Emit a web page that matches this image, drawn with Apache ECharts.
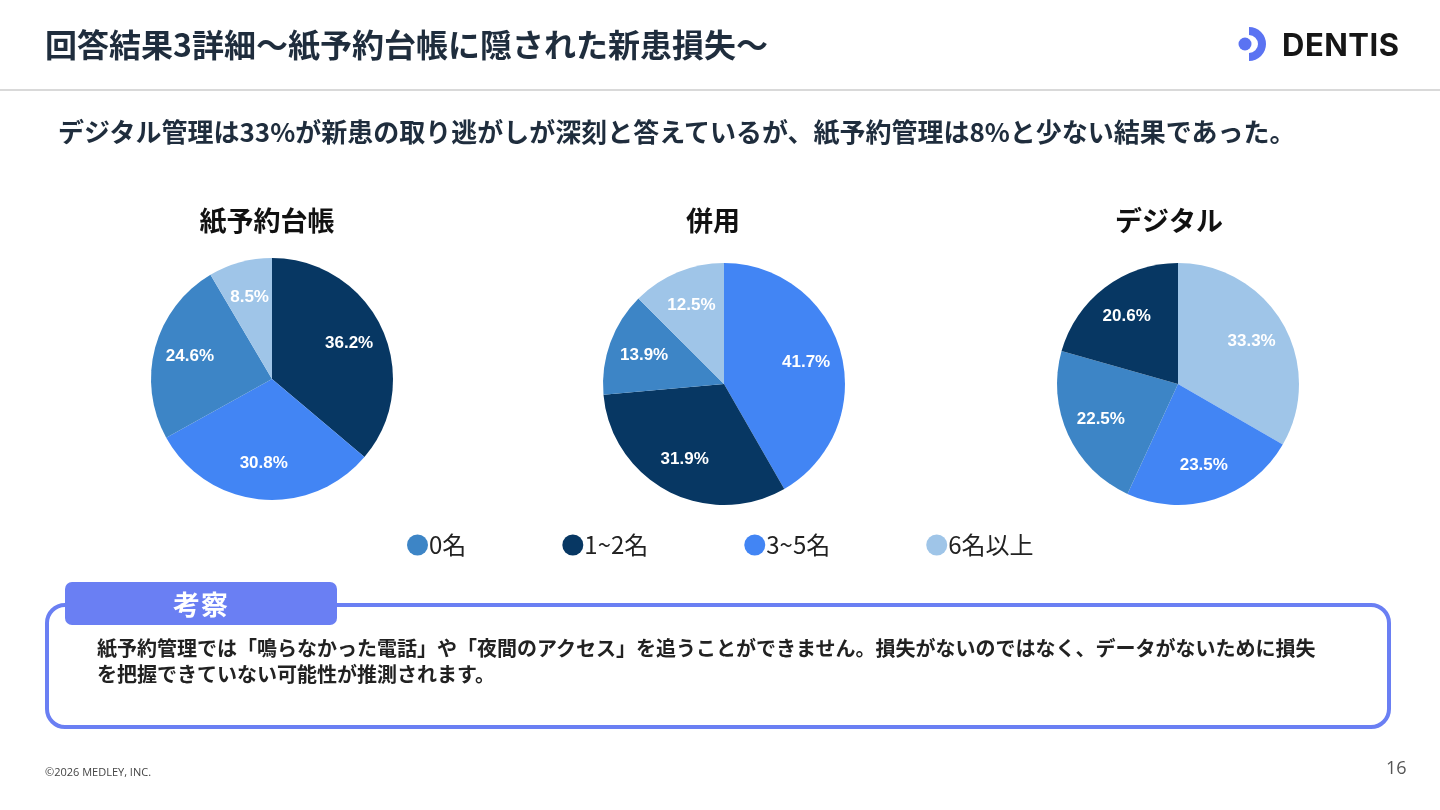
<!DOCTYPE html>
<html lang="ja">
<head>
<meta charset="utf-8">
<title>回答結果3詳細</title>
<script src="https://cdn.jsdelivr.net/npm/echarts@6/dist/echarts.min.js"></script>
<style>
  html, body { margin: 0; padding: 0; background: #fff; }
  body { width: 1440px; height: 810px; position: relative; overflow: hidden;
         font-family: "Noto Sans CJK JP", "Noto Sans", sans-serif; }
  #chart { position: absolute; left: 0; top: 0; width: 1440px; height: 810px; }
  .layer { position: absolute; pointer-events: none; white-space: nowrap; }
  .head-title { left: 45px; top: 20px; font-size: 32px; font-weight: 700; color: #1f2d3d; }
  .head-line { left: 0; top: 89px; width: 1440px; height: 2px; background: #d9d9d9; }
  .lead { left: 58px; top: 112px; font-size: 26px; font-weight: 700; color: #1f2d3d; }
  .logo { left: 1236px; top: 26px; height: 36px; display: flex; align-items: center; }
  .logo-text { font-family: Inter, Roboto, sans-serif; font-weight: 700; font-size: 31px; color: #161616; margin-left: 12px; letter-spacing: 0.5px; }
  .box { left: 45px; top: 603px; width: 1338px; height: 118px; border: 4px solid #6a7ff3; border-radius: 20px; }
  .tab { left: 65px; top: 582px; width: 272px; height: 43px; background: #6a7ff3; border-radius: 7px;
         color: #fff; font-size: 27px; font-weight: 700; text-align: center; line-height: 43px; letter-spacing: 1px; }
  .box-text { left: 97px; top: 635px; font-size: 20px; font-weight: 700; color: #222; line-height: 26px; }
  .copy { left: 45px; top: 764px; font-size: 11px; color: #444; font-family: "Open Sans", sans-serif; }
  .page { left: 1386px; top: 755px; font-size: 18px; color: #555; font-family: "Open Sans", sans-serif; }
</style>
</head>
<body>
<div id="chart"></div>

<div class="layer head-title">回答結果3詳細〜紙予約台帳に隠された新患損失〜</div>
<div class="layer head-line"></div>
<div class="layer logo">
  <svg width="34" height="36" viewBox="0 0 34 36">
    <circle cx="9" cy="18" r="6.5" fill="#5b73f2"/>
    <path d="M13 1 A17 17 0 0 1 13 35 L13 27 A9 9 0 0 0 13 9 Z" fill="#5b73f2"/>
  </svg>
  <span class="logo-text">DENTIS</span>
</div>
<div class="layer lead">デジタル管理は33%が新患の取り逃がしが深刻と答えているが、紙予約管理は8%と少ない結果であった。</div>

<div class="layer box"></div>
<div class="layer tab">考察</div>
<div class="layer box-text">紙予約管理では「鳴らなかった電話」や「夜間のアクセス」を追うことができません。損失がないのではなく、データがないために損失<br>を把握できていない可能性が推測されます。</div>

<div class="layer copy">©2026 MEDLEY, INC.</div>
<div class="layer page">16</div>

<script>
// ==================== Data ====================
const categories = ['0名', '1~2名', '3~5名', '6名以上'];
const categoryColors = ['#3d85c6', '#073763', '#4285f4', '#9fc5e8'];
const groupNames = ['紙予約台帳', '併用', 'デジタル'];

// values per category (0名, 1~2名, 3~5名, 6名以上), in %
const paperValues = [24.6, 36.2, 30.8, 8.5];
const mixedValues = [13.9, 31.9, 41.7, 12.5];
const digitalValues = [22.5, 20.6, 23.5, 33.3];

// clockwise slice order from 12 o'clock (category indexes)
const paperOrder = [1, 2, 0, 3];
const mixedOrder = [2, 1, 0, 3];
const digitalOrder = [3, 2, 0, 1];

// ==================== Layout ====================
const pieCenters = [[272, 379], [724, 384], [1178, 384]];
const titleX = [262, 708, 1164];
const pieRadius = 121;
const labelRadius = 82;

function buildData(values, order, transparent) {
    return order.map(i => ({
        name: categories[i],
        value: values[i],
        itemStyle: { color: transparent ? 'rgba(0,0,0,0)' : categoryColors[i] }
    }));
}

const groups = [
    { values: paperValues, order: paperOrder },
    { values: mixedValues, order: mixedOrder },
    { values: digitalValues, order: digitalOrder }
];

const series = [];
groups.forEach((g, k) => {
    series.push({
        type: 'pie',
        name: groupNames[k],
        center: pieCenters[k],
        radius: [0, pieRadius],
        startAngle: 90,
        clockwise: true,
        silent: true,
        label: { show: false },
        labelLine: { show: false },
        itemStyle: { borderWidth: 0 },
        data: buildData(g.values, g.order, false)
    });
});
// label-only layer so the percentages sit further out than 'inside'
groups.forEach((g, k) => {
    series.push({
        type: 'pie',
        name: groupNames[k] + '_label',
        center: pieCenters[k],
        radius: [0, labelRadius * 2],
        startAngle: 90,
        clockwise: true,
        silent: true,
        legendHoverLink: false,
        z: 5,
        label: {
            show: true,
            position: 'inside',
            formatter: p => p.value.toFixed(1) + '%',
            color: '#fff',
            fontFamily: 'Liberation Sans, Arial, sans-serif',
            fontWeight: 'bold',
            fontSize: 17
        },
        labelLine: { show: false },
        itemStyle: { borderWidth: 0 },
        data: buildData(g.values, g.order, true)
    });
});

const chart = echarts.init(document.getElementById('chart'), null, { renderer: 'canvas' });
chart.setOption({
    animation: false,
    title: groupNames.map((n, k) => ({
        text: n,
        left: titleX[k],
        top: 202,
        textAlign: 'center',
        textStyle: {
            fontFamily: 'Noto Sans CJK JP',
            fontWeight: 'bold',
            fontSize: 27,
            color: '#111'
        }
    })),
    legend: {
        left: 402,
        top: 528,
        icon: 'circle',
        itemWidth: 21,
        itemHeight: 21,
        itemGap: 96,
        selectedMode: false,
        textStyle: {
            fontFamily: 'Noto Sans CJK JP',
            fontSize: 24,
            color: '#222',
            padding: [0, 0, 0, -4]
        },
        data: categories.map((c, i) => ({ name: c, itemStyle: { color: categoryColors[i] } }))
    },
    series: series
});
</script>
</body>
</html>
